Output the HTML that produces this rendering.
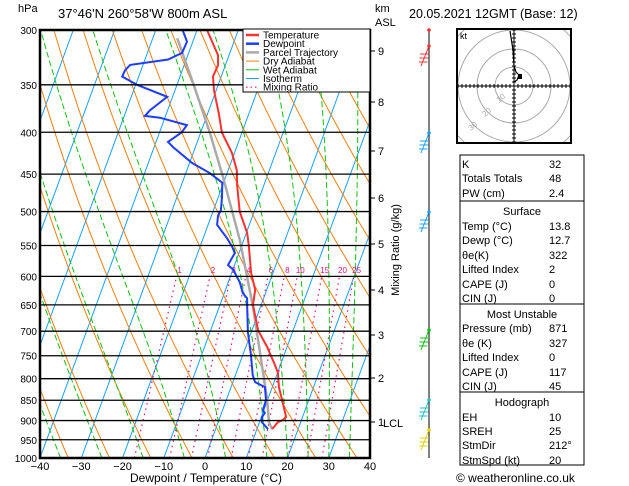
<!DOCTYPE html>
<html><head><meta charset="utf-8"><style>
body{margin:0;background:#fff;}
svg{display:block;font-family:"Liberation Sans",sans-serif;}
</style></head><body>
<svg id="c" width="629" height="486" viewBox="0 0 629 486"></svg>
<script>
// ---- data ----
const tempP=[922,904,899,891,857,819,787,770,732,698,650,623,594,550,531,500,464,445,424,400,381,355,342,331,322,300];
const tempT=[13.7,14.5,15.5,16.0,14.0,11.6,10.1,8.7,5.2,1.5,-2.0,-2.8,-5.3,-8.3,-9.8,-13.5,-16.5,-17.9,-20.6,-24.9,-27.1,-30.6,-32.0,-31.8,-32.7,-37.6];
const dewP=[922,904,891,881,874,849,819,808,792,749,702,654,638,629,610,589,581,562,552,539,519,506,498,480,461,449,436,417,411,400,392,384,382,376,362,350,342,336,331,326,320,310,300];
const dewT=[12.7,10.6,10.2,10.5,9.8,9.6,8.2,5.4,4.2,2.0,-0.8,-3.2,-4.0,-5.5,-7.2,-9.9,-11.6,-11.0,-12.2,-14.2,-17.8,-18.4,-18.2,-19.1,-20.3,-24.1,-29.4,-35.4,-37.1,-34.6,-34.0,-41.2,-45.0,-44.3,-41.3,-49.7,-54.0,-53.9,-53.1,-44.4,-41.6,-41.4,-43.5];
const parcelP=[922,904,849,787,654,542,454,401,348,307];
const parcelT=[13.7,12.3,9.9,6.5,-1.8,-10.9,-20.6,-27.7,-36.3,-44.1];
const pressureTicks=[300,350,400,450,500,550,600,650,700,750,800,850,900,950,1000];
const tempTicks=[-40,-30,-20,-10,0,10,20,30,40];
const mixRatios=[1,2,3,4,6,8,10,15,20,25];
const kmTicks=[9,8,7,6,5,4,3,2,1];
const kmY=[51,102,151,198,244,290,335,378,422];

// ---- axes ----
const X0=40,X1=370,YT=30,YB=458,PXC=4.125,SK=0.367,YS=355.5;
function yP(p){return YB-YS*Math.log(1000/p);}
function xT(T,p){return X0+(T+40)*PXC+SK*(YB-yP(p));}
const NS="http://www.w3.org/2000/svg";
const svg=document.getElementById('c');
function el(tag,attrs,parent){const e=document.createElementNS(NS,tag);for(const k in attrs)e.setAttribute(k,attrs[k]);(parent||svg).appendChild(e);return e;}
function txt(s,x,y,attrs,parent){const t=el('text',Object.assign({x:x,y:y,'font-size':11},attrs||{}),parent);t.textContent=s;return t;}

const defs=el('defs',{});
const cp=el('clipPath',{id:'pc'},defs);el('rect',{x:X0,y:YT,width:X1-X0,height:YB-YT},cp);
const cph=el('clipPath',{id:'hc'},defs);el('rect',{x:457,y:29,width:114,height:114},cph);
const g=el('g',{'clip-path':'url(#pc)'});



function line(ps,Ts,attrs,parent){let d='';for(let i=0;i<ps.length;i++)d+=(i?'L':'M')+xT(Ts[i],ps[i]).toFixed(1)+','+yP(ps[i]).toFixed(1);return el('path',Object.assign({d:d,fill:'none'},attrs),parent);}

for(let T=-130;T<=40;T+=10){const l=line([1000,300],[T,T],{stroke:'#1aa0ff','stroke-width':1},g);}
for(let th=230;th<=480;th+=10){const ps=[],Ts=[];for(let p=1000;p>=300;p-=25){ps.push(p);Ts.push(th*Math.pow(p/1000,0.286)-273.15);}const l=line(ps,Ts,{stroke:'#f08010','stroke-width':1},g);}
function es(T){return 6.112*Math.exp(17.67*T/(T+243.5));}
for(const T0 of [-35,-25,-15,-5,5,15,20,25,30,35]){const ps=[],Ts=[];let T=T0;for(let p=1000;p>=300;p-=5){ps.push(p);Ts.push(T);const Tk=T+273.15;const rs=0.622*es(T)/(p-es(T));const dTdp=(287*Tk+2.5e6*rs)/(p*(1004+2.5e6*2.5e6*rs*0.622/(287*Tk*Tk)));T-=dTdp*5;}
const l=line(ps,Ts,{stroke:'#10c010','stroke-width':1,'stroke-dasharray':'6,3'},g);}
function tdFromW(w,p){const e=w*p/(622+w);const a=Math.log(e/6.112);return 243.5*a/(17.67-a);}
mixRatios.forEach(w=>{const ps=[1000,600],Ts=ps.map(p=>tdFromW(w,p));const l=line(ps,Ts,{stroke:'#e0107a','stroke-width':1.2,'stroke-dasharray':'1.5,4'},g);
const t=txt(String(w),xT(tdFromW(w,600),600)+3,273,{'font-size':8,fill:'#e0107a','text-anchor':'middle'},g);});
pressureTicks.forEach(p=>{const y=yP(p);const l=el('line',{x1:X0,x2:X1,y1:y,y2:y,stroke:'#000','stroke-width':1.3});
const t=txt(String(p),37,y+4,{'font-size':10,'text-anchor':'end'});});
const pl=line(parcelP,parcelT,{stroke:'#aaa','stroke-width':2.5},g);
const dl=line(dewP,dewT,{stroke:'#1e3cff','stroke-width':2},g);
const tl=line(tempP,tempT,{stroke:'#ff3030','stroke-width':2},g);

el('rect',{x:X0,y:YT,width:X1-X0,height:YB-YT,fill:'none',stroke:'#000','stroke-width':2.5});
tempTicks.forEach(T=>{const t=txt(String(T).replace('-','\u2212'),X0+(T+40)*PXC,470,{'font-size':11,'text-anchor':'middle'});});
kmTicks.forEach((k,i)=>{el('line',{x1:X1,x2:X1+5,y1:kmY[i],y2:kmY[i],stroke:'#000'});const t=txt(String(k),X1+8,kmY[i]+4,{'font-size':11});});
txt('LCL',383,427,{'font-size':11});
</script>
<script>
(function(){
const svg=document.getElementById('c');const NS="http://www.w3.org/2000/svg";
function el(tag,attrs,parent){const e=document.createElementNS(NS,tag);for(const k in attrs)e.setAttribute(k,attrs[k]);(parent||svg).appendChild(e);return e;}
function txt(s,x,y,attrs,parent){const t=el('text',Object.assign({x:x,y:y,'font-size':11},attrs||{}),parent);t.textContent=s;return t;}
let t;
t=txt('hPa',18,12,{'font-size':11});
t=txt('37°46\'N  260°58\'W  800m  ASL',58,18,{'font-size':13,'xml:space':'preserve'});
t=txt('20.05.2021  12GMT  (Base: 12)',409,18,{'font-size':12.5});
t=txt('km',375,12);
t=txt('ASL',375,26);
t=txt('Dewpoint / Temperature (°C)',206,482,{'font-size':12,'text-anchor':'middle'});
t=txt('Mixing Ratio (g/kg)',0,0,{'font-size':11,'text-anchor':'middle',transform:'translate(399,250) rotate(-90)'});
const lg=el('g',{});
el('rect',{x:243,y:29,width:127,height:63,fill:'#fff',stroke:'#000','stroke-width':1},lg);
const items=[['Temperature','#ff3030',2.5,''],['Dewpoint','#1e3cff',2.5,''],['Parcel Trajectory','#aaa',2.5,''],['Dry Adiabat','#f08010',1,''],['Wet Adiabat','#10c010',1,''],['Isotherm','#1aa0ff',1,''],['Mixing Ratio','#e0107a',1.2,'1.5,3']];
items.forEach((it,i)=>{const y=35+i*8.7;const e=el('g',{},lg);
el('line',{x1:246,x2:259,y1:y,y2:y,stroke:it[1],'stroke-width':it[2],'stroke-dasharray':it[3]},e);txt(it[0],263,y+3.5,{'font-size':10},e);});
el('line',{x1:429,x2:429,y1:29,y2:458,stroke:'#000'});
const barbs=[[30,'#ff3030'],[46,'#ff3030'],[133,'#1aa0ff'],[212,'#1aa0ff'],[330,'#10c010'],[400,'#20c0c0'],[430,'#e0d000']];
barbs.forEach(b=>{const bg=el('g',{});
el('circle',{cx:429,cy:b[0],r:1.8,fill:b[1]},bg);
if(b[0]===30)return;
el('line',{x1:429,y1:b[0],x2:421,y2:b[0]+20,stroke:b[1]},bg);
for(let k=0;k<3;k++)el('line',{x1:420-k*0.5,y1:b[0]+8+k*4,x2:429-k*0.8,y2:b[0]+8+k*4,stroke:b[1]},bg);});
const hg=el('g',{});
const cx=514,cy=86;
el('rect',{x:457,y:29,width:114,height:114,fill:'#fff'},hg);
const hc=el('g',{'clip-path':'url(#hc)'},hg);
[19,37,56,75].forEach(r=>el('circle',{cx:cx,cy:cy,r:r,fill:'none',stroke:'#aaa'},hc));
el('line',{x1:458,x2:570,y1:cy,y2:cy,stroke:'#000'},hc);el('line',{x1:cx,x2:cx,y1:30,y2:142,stroke:'#000'},hc);
for(let d=-56;d<=56;d+=4){if(d===0)continue;el('line',{x1:cx+d,x2:cx+d,y1:cy-2,y2:cy+2,stroke:'#000'},hc);el('line',{x1:cx-2,x2:cx+2,y1:cy+d,y2:cy+d,stroke:'#000'},hc);}
el('rect',{x:457,y:29,width:114,height:114,fill:'none',stroke:'#000','stroke-width':2},hg);
txt('kt',460,39,{'font-size':9},hg);
['10','20','30'].forEach((s,i)=>txt(s,cx-15-i*14,cy+17+i*14,{'font-size':8,fill:'#aaa',transform:'rotate(-40 '+(cx-15-i*14)+' '+(cy+17+i*14)+')'},hg));
el('path',{d:'M510,31 L513,50 L514,66 L516,72 L519,75 L517,80 L514,82',fill:'none',stroke:'#000','stroke-width':1.2},hg);
el('rect',{x:518,y:74,width:4,height:5,fill:'#000'},hg);
const tb=el('g',{});
[[155,201],[201,304],[304,392],[392,465]].forEach(b=>el('rect',{x:460,y:b[0],width:124,height:b[1]-b[0],fill:'none',stroke:'#000','stroke-width':1},tb));
const rows=[[164,'K','32'],[178,'Totals Totals','48'],[193,'PW (cm)','2.4'],[211,'Surface',null],[226,'Temp (°C)','13.8'],[240,'Dewp (°C)','12.7'],[255,'θe(K)','322'],[269,'Lifted Index','2'],[284,'CAPE (J)','0'],[298,'CIN (J)','0'],[314,'Most Unstable',null],[328,'Pressure (mb)','871'],[343,'θe (K)','327'],[357,'Lifted Index','0'],[372,'CAPE (J)','117'],[386,'CIN (J)','45'],[402,'Hodograph',null],[417,'EH','10'],[431,'SREH','25'],[445,'StmDir','212°'],[460,'StmSpd (kt)','20']];
rows.forEach(r=>{const y=r[0]+4;if(r[2]===null){const t=txt(r[1],522,y,{'font-size':11,'text-anchor':'middle'},tb);}
else{const t1=txt(r[1],462,y,{'font-size':11},tb);const t2=txt(r[2],549,y,{'font-size':11},tb);}});
t=txt('© weatheronline.co.uk',456,482,{'font-size':12});
})();
</script>
</body></html>
